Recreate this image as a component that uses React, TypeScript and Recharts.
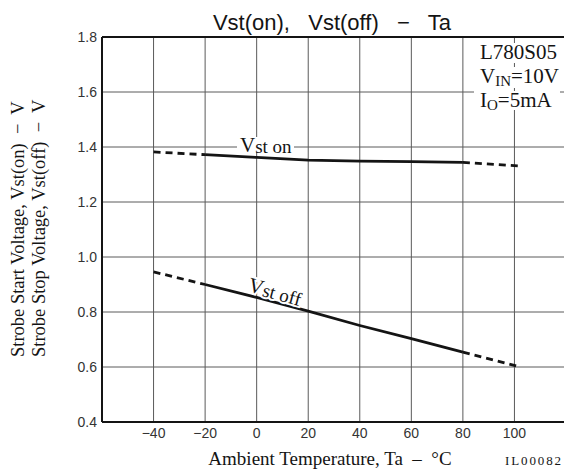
import { CartesianGrid, Line, LineChart, ReferenceLine, XAxis, YAxis } from 'recharts'

// Ta (°C) sample points
const solidTa = [-20, 0, 20, 40, 60, 80]
const lowTa = [-40, -20]
const onHighTa = [80, 102]
const offHighTa = [80, 101]

// Vst(on) in V
const vstOnSolid = [1.372, 1.362, 1.352, 1.349, 1.347, 1.344]
const vstOnLow = [1.382, 1.372]
const vstOnHigh = [1.344, 1.331]

// Vst(off) in V
const vstOffSolid = [0.9, 0.853, 0.803, 0.751, 0.703, 0.654]
const vstOffLow = [0.946, 0.9]
const vstOffHigh = [0.654, 0.603]

const xTicks = [-60, -40, -20, 0, 20, 40, 60, 80, 100, 120]
const yTicks = [0.4, 0.6, 0.8, 1.0, 1.2, 1.4, 1.6, 1.8]

const zip = (ta: number[], v: number[]) => ta.map((t, i) => ({ ta: t, v: v[i] }))

const serif = '"Liberation Serif", "Times New Roman", serif'
const sans = '"Liberation Sans", Arial, sans-serif'
const ink = '#141414'

export default function App() {
  const tick = { fill: '#333', fontSize: 14, fontFamily: sans }
  const lineProps = { type: 'linear' as const, dataKey: 'v', stroke: ink, strokeWidth: 2.8, dot: false, isAnimationActive: false }

  return (
    <div style={{ position: 'absolute', left: 0, top: 0, width: 564, height: 472, overflow: 'hidden', background: '#fff' }}>
      <LineChart width={568} height={472} margin={{ top: 37, right: 2, left: 0, bottom: 20 }}>
        <CartesianGrid stroke="#5a5a5a" strokeWidth={1} />
        <XAxis
          dataKey="ta"
          type="number"
          domain={[-60, 120]}
          ticks={xTicks}
          interval={0}
          height={30}
          tickLine={false}
          tickSize={6}
          tickMargin={0}
          axisLine={{ stroke: ink, strokeWidth: 2 }}
          tick={tick}
          tickFormatter={(v: number) => (v < -40 || v > 100 ? '' : String(v).replace('-', '\u2212'))}
        />
        <YAxis
          type="number"
          domain={[0.4, 1.8]}
          ticks={yTicks}
          interval={0}
          width={102}
          tickLine={false}
          tickSize={5}
          tickMargin={0}
          axisLine={{ stroke: ink, strokeWidth: 2 }}
          tick={tick}
          tickFormatter={(v: number) => v.toFixed(1)}
        />
        <ReferenceLine y={1.8} stroke={ink} strokeWidth={2} />
        <Line {...lineProps} data={zip(solidTa, vstOnSolid)} />
        <Line {...lineProps} data={zip(lowTa, vstOnLow)} strokeDasharray="7 5" />
        <Line {...lineProps} data={zip(onHighTa, vstOnHigh)} strokeDasharray="7 5" />
        <Line {...lineProps} data={zip(solidTa, vstOffSolid)} />
        <Line {...lineProps} data={zip(lowTa, vstOffLow)} strokeDasharray="7 5" />
        <Line {...lineProps} data={zip(offHighTa, vstOffHigh)} strokeDasharray="7 5" />
      </LineChart>

      <svg width={564} height={472} style={{ position: 'absolute', left: 0, top: 0, pointerEvents: 'none' }}>
        <text x={332} y={30} textAnchor="middle" fontFamily={sans} fontSize={22} fill={ink} style={{ whiteSpace: 'pre' }}>
          {'Vst(on),   Vst(off)   \u2212   Ta'}
        </text>

        <text x={330} y={465} textAnchor="middle" fontFamily={serif} fontSize={19} fill={ink} style={{ whiteSpace: 'pre' }}>
          {'Ambient Temperature, Ta  \u2013  \u00b0C'}
        </text>
        <text x={505} y={465} fontFamily={serif} fontSize={13} fill={ink} textLength={56}>IL00082</text>

        <text transform="translate(24,357) rotate(-90)" fontFamily={serif} fontSize={18.5} fill={ink} style={{ whiteSpace: 'pre' }}>
          {'Strobe Start Voltage, Vst(on)  \u2212  V'}
        </text>
        <text transform="translate(45,357) rotate(-90)" fontFamily={serif} fontSize={18.5} fill={ink} style={{ whiteSpace: 'pre' }}>
          {'Strobe Stop Voltage, Vst(off)  \u2212  V'}
        </text>

        {/* condition box */}
        <rect x={476} y={43} width={88} height={20} fill="#fff" />
        <rect x={474} y={67} width={90} height={21} fill="#fff" />
        <rect x={474} y={91} width={86} height={19} fill="#fff" />
        <text x={480} y={59} fontFamily={serif} fontSize={21} fill={ink}>L780S05</text>
        <text x={480} y={83} fontFamily={serif} fontSize={21} fill={ink}>
          V<tspan fontSize={15} dy={3}>IN</tspan><tspan dy={-3}>=10V</tspan>
        </text>
        <text x={480} y={107} fontFamily={serif} fontSize={21} fill={ink}>
          I<tspan fontSize={15} dy={3}>O</tspan><tspan dy={-3}>=5mA</tspan>
        </text>

        {/* curve labels */}
        <rect x={237} y={137} width={57} height={15} fill="#fff" />
        <text x={240} y={152} fontFamily={serif} fontSize={21} fill={ink}>
          V<tspan fontSize={19} dy={1}>st on</tspan>
        </text>
        <text
          transform="translate(247,291) rotate(15)"
          fontFamily={serif}
          fontSize={21}
          fill={ink}
          stroke="#fff"
          strokeWidth={4}
          style={{ paintOrder: 'stroke' }}
        >
          V<tspan fontSize={19} dy={1}>st off</tspan>
        </text>
      </svg>
    </div>
  )
}
